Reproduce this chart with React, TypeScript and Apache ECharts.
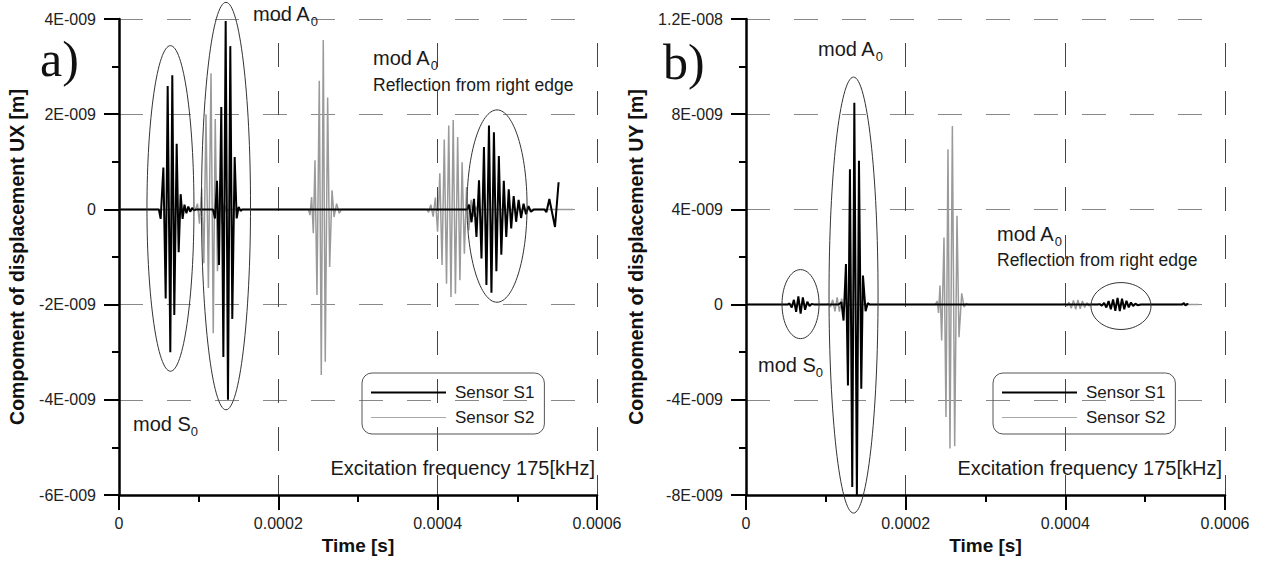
import React, { useEffect, useRef } from 'react';
import * as echarts from 'echarts';

// Time in microseconds, displacement in units of 1E-009 m
const uxS1: [number, number][] = [
  [0, 0], [50, 0], [52.3, -0.2], [55.7, 0.88], [58.6, -1.87], [61.1, 2.59], [64.4, -3.0], [66.9, 2.82],
  [69.4, -2.22], [72.4, 1.38], [74.9, -0.9], [77.4, 0.32], [79.8, -0.2], [82.2, 0.1], [84.6, -0.08],
  [87, 0.06], [89.4, -0.05], [91.8, 0.03], [94.2, -0.02], [97, 0],
  [118, 0], [120.5, -0.19], [123, 0.6], [125.5, -1.17], [128.4, 2.15], [131, -3.1], [133.9, 3.96],
  [136.8, -4.0], [139.7, 3.43], [142.2, -2.3], [145.2, 1.1], [147.7, -0.19], [150.2, 0.05],
  [152.6, -0.03], [155, 0],
  [437, 0], [439.4, 0.1], [442.5, -0.27], [445.6, 0.22], [448.7, -0.58], [451.9, 0.61], [455, -1.03],
  [458.1, 1.31], [461.2, -1.59], [464.4, 1.76], [467.5, -1.75], [470.6, 1.62], [473.7, -1.3],
  [476.8, 1.12], [479.9, -0.95], [483, 0.6], [486.1, -0.58], [489.2, 0.42], [492.3, -0.4],
  [495.4, 0.28], [498.5, -0.26], [501.6, 0.2], [504.7, -0.18], [507.8, 0.12], [510.9, -0.1],
  [514, 0.07], [517, -0.05], [521, 0],
  [534, 0], [536.5, -0.06], [540.2, 0.22], [547.3, -0.37], [551.8, 0.57],
];

const uxS2: [number, number][] = [
  [0, 0], [96, 0], [98.5, 0.12], [101, -0.3], [103.8, 0.44], [106.5, -1.13], [109.2, 2.0],
  [112.2, -1.65], [115.5, 2.86], [118.3, -2.6], [120.8, 1.9], [123.6, -1.3], [126.5, 0.6],
  [129.3, -0.3], [132, 0.12], [134.8, -0.05], [137.5, 0],
  [237.7, 0], [239.7, -0.12], [241.8, 0.26], [243.9, -0.5], [246, 1.03], [248.5, -1.8],
  [251.4, 2.7], [253.9, -3.48], [256.4, 3.56], [258.9, -3.2], [261.9, 2.35], [264.4, -1.21],
  [267.4, 0.4], [269.9, -0.16], [273.2, 0.12], [276.5, -0.08], [279.5, 0],
  [386, 0], [388.6, -0.06], [391.4, 0.1], [394.3, -0.15], [397.1, 0.25], [399.9, -0.47],
  [402.7, 0.76], [405.5, -1.17], [408.3, 1.47], [411.1, -1.56], [413.9, 1.76], [416.7, -1.84],
  [419.5, 1.88], [422.3, -1.77], [425.1, 1.52], [427.9, -1.49], [430.7, 0.99], [433.5, -0.93],
  [436.3, 0.47], [439.1, -0.44], [441.9, 0.2], [444.7, -0.15], [447.5, 0.06], [450.3, -0.03],
  [453, 0], [570, 0],
];

const uyS1: [number, number][] = [
  [0, 0], [52, 0], [54.5, 0.05], [57.3, -0.12], [60, 0.2], [62.8, -0.3], [65.6, 0.35],
  [68.4, -0.38], [71.2, 0.3], [74, -0.22], [76.8, 0.12], [79.6, -0.06], [82.4, 0.03], [86, 0],
  [116, 0], [119.5, 0.1], [122.2, -0.67], [125.2, 1.7], [127.7, -3.4], [130.2, 5.69],
  [133.1, -7.66], [135.7, 8.48], [138.9, -8.0], [141.5, 6.04], [144.4, -3.54], [146.5, 1.22],
  [149.8, -0.28], [152.5, 0.06], [155, 0],
  [440, 0], [443, 0.02], [445.8, -0.04], [448.6, 0.07], [451.4, -0.12], [454.2, 0.15],
  [457, -0.2], [459.8, 0.22], [462.6, -0.26], [465.4, 0.28], [468.2, -0.27], [471, 0.25],
  [473.8, -0.2], [476.6, 0.16], [479.4, -0.12], [482.2, 0.09], [485, -0.06], [487.8, 0.04],
  [490.6, -0.03], [495, 0],
  [546, 0], [548.5, 0.06], [550.5, -0.04], [552.5, 0.03], [554, 0],
];

const uyS2: [number, number][] = [
  [0, 0], [100, 0], [103, 0.04], [105.8, -0.1], [108.6, 0.2], [111.4, -0.28], [114.2, 0.3],
  [117, -0.3], [119.8, 0.25], [122.6, -0.18], [125.4, 0.1], [128.2, -0.05], [131, 0],
  [237, 0], [239.5, 0.15], [241.2, -0.35], [243, 0.8], [245.1, -1.51], [248, 2.82],
  [250.5, -4.72], [253, 6.53], [255.5, -6.05], [258.5, 7.5], [261.4, -5.95], [264.3, 3.73],
  [266.8, -1.37], [270.2, 0.47], [273.1, -0.1], [276, 0.05], [278, 0],
  [396, 0], [399, 0.03], [401.8, -0.06], [404.6, 0.1], [407.4, -0.15], [410.2, 0.18],
  [413, -0.2], [415.8, 0.2], [418.6, -0.18], [421.4, 0.15], [424.2, -0.12], [427, 0.08],
  [429.8, -0.05], [432.6, 0.02], [436, 0], [567, 0],
];

// Ellipse annotations (centre time, centre value, radius in time, radius in value)
const uxEllipses = [
  [64.6, 0.02, 29.5, 3.42],
  [134.3, 0.07, 30.8, 4.28],
  [474.5, 0.07, 37.7, 2.02],
];
const uyEllipses = [
  [68.3, 0.02, 23.2, 1.45],
  [134.7, 0.4, 30.7, 9.16],
  [469.7, -0.06, 37.6, 0.985],
];

const xRange = [0, 600, 200];
const uxRange = [-6, 4, 2];
const uyRange = [-8, 12, 4];

const seriesNames = ['Sensor S1', 'Sensor S2'];
const yNames = ['Compoment of displacement UX [m]', 'Compoment of displacement UY [m]'];
const xName = 'Time [s]';
const excitation = 'Excitation frequency 175[kHz]';
const reflection = 'Reflection from right edge';

const FONT = "'Liberation Sans', Arial, Helvetica, sans-serif";
const SERIF = "'Liberation Serif', 'Times New Roman', serif";
const TXT = '#1a1a1a';
const S1_COLOR = '#000';
const S2_COLOR = '#9a9a9a';

function sciLabel(v: number): string {
  const val = v * 1e-9;
  if (Math.abs(v) < 1e-9) return '0';
  const e = Math.floor(Math.log10(Math.abs(val)) + 1e-9);
  const m = +(val / Math.pow(10, e)).toFixed(3);
  return `${m}E${e < 0 ? '-' : '+'}${String(Math.abs(e)).padStart(3, '0')}`;
}

function timeLabel(v: number): string {
  if (v === 0) return '0';
  return (v * 1e-6).toFixed(4);
}

function makeXAxis(gridIndex: number) {
  return {
    type: 'value',
    gridIndex,
    min: xRange[0],
    max: xRange[1],
    interval: xRange[2],
    name: xName,
    nameLocation: 'middle',
    nameGap: 41,
    nameTextStyle: { fontFamily: FONT, fontSize: 19, fontWeight: 'bold', color: '#111' },
    axisLine: { show: true, onZero: false, lineStyle: { color: '#000', width: 2.5 } },
    axisTick: { show: true, length: 15, lineStyle: { color: '#000', width: 2 } },
    minorTick: { show: true, splitNumber: 2, length: 7, lineStyle: { color: '#000', width: 2 } },
    axisLabel: { fontFamily: FONT, fontSize: 16, color: '#222', margin: 20, formatter: timeLabel },
    splitLine: { show: true, lineStyle: { color: '#444', width: 1, type: [24, 24], dashOffset: 24 } },
    minorSplitLine: { show: false },
  };
}

function makeYAxis(gridIndex: number, range: number[], name: string, nameGap: number) {
  return {
    type: 'value',
    gridIndex,
    min: range[0],
    max: range[1],
    interval: range[2],
    name,
    nameLocation: 'middle',
    nameGap,
    nameTextStyle: { fontFamily: FONT, fontSize: 19.5, fontWeight: 'bold', color: '#111' },
    axisLine: { show: true, onZero: false, lineStyle: { color: '#000', width: 2.5 } },
    axisTick: { show: true, length: 15, lineStyle: { color: '#000', width: 2 } },
    minorTick: { show: true, splitNumber: 2, length: 7, lineStyle: { color: '#000', width: 2 } },
    axisLabel: { fontFamily: FONT, fontSize: 16, color: '#222', margin: 23, formatter: sciLabel },
    splitLine: { show: true, lineStyle: { color: '#888', width: 1, type: [24, 24] } },
  };
}

function lineSeries(name: string, data: [number, number][], idx: number) {
  const isS1 = name === seriesNames[0];
  return {
    type: 'line',
    name,
    xAxisIndex: idx,
    yAxisIndex: idx,
    data,
    symbol: 'none',
    showSymbol: false,
    silent: true,
    z: isS1 ? 4 : 3,
    lineStyle: { color: isS1 ? S1_COLOR : S2_COLOR, width: isS1 ? 2 : 1.5 },
    itemStyle: { color: isS1 ? S1_COLOR : S2_COLOR },
  };
}

function legendAt(left: number) {
  return {
    data: [
      { name: seriesNames[0], lineStyle: { color: S1_COLOR, width: 2 } },
      { name: seriesNames[1], lineStyle: { color: '#a8a8a8', width: 1 } },
    ],
    orient: 'vertical',
    left,
    top: 373,
    itemWidth: 75,
    itemHeight: 14,
    itemGap: 8,
    padding: [11, 10, 8, 8],
    borderColor: '#555',
    borderWidth: 1,
    borderRadius: 10,
    selectedMode: false,
    itemStyle: { opacity: 0 },
    formatter: (name: string) => `{t|${name}}`,
    textStyle: {
      fontFamily: FONT,
      fontSize: 17,
      color: TXT,
      rich: { t: { fontFamily: FONT, fontSize: 17, color: TXT, padding: [0, 0, 0, 4] } },
    },
  };
}

function modText(x: number, y: number, letter: string) {
  return {
    type: 'text',
    x,
    y,
    z: 20,
    style: {
      text: `{m|mod ${letter}}{s|0}`,
      verticalAlign: 'middle',
      rich: {
        m: { fontFamily: FONT, fontSize: 20, fill: TXT, lineHeight: 24, verticalAlign: 'top' },
        s: { fontFamily: FONT, fontSize: 13, fill: TXT, lineHeight: 13, verticalAlign: 'bottom' },
      },
    },
  };
}

function plainText(x: number, y: number, text: string, fontSize: number, extra: any = {}) {
  return {
    type: 'text',
    x,
    y,
    z: 20,
    style: { text, fontFamily: FONT, fontSize, fill: TXT, verticalAlign: 'middle', ...extra },
  };
}

export default function App() {
  const ref = useRef<HTMLDivElement>(null);

  useEffect(() => {
    if (!ref.current) return;
    const chart = echarts.init(ref.current, undefined, { renderer: 'svg' });
    chart.setOption({
      animation: false,
      backgroundColor: '#fff',
      grid: [
        { left: 119, top: 19, width: 478, height: 476 },
        { left: 746, top: 19, width: 479, height: 476 },
      ],
      xAxis: [makeXAxis(0), makeXAxis(1)],
      yAxis: [makeYAxis(0, uxRange, yNames[0], 92), makeYAxis(1, uyRange, yNames[1], 100)],
      legend: [legendAt(362), legendAt(993)],
      series: [
        lineSeries(seriesNames[1], uxS2, 0),
        lineSeries(seriesNames[0], uxS1, 0),
        lineSeries(seriesNames[1], uyS2, 1),
        lineSeries(seriesNames[0], uyS1, 1),
      ],
    });

    const ellipses: any[] = [];
    const addEllipses = (list: number[][], gridIndex: number) => {
      list.forEach(([t, v, rt, rv]) => {
        const c = chart.convertToPixel({ gridIndex }, [t, v]) as number[];
        const px = chart.convertToPixel({ gridIndex }, [t + rt, v + rv]) as number[];
        ellipses.push({
          type: 'ellipse',
          z: 15,
          shape: { cx: c[0], cy: c[1], rx: Math.abs(px[0] - c[0]), ry: Math.abs(px[1] - c[1]) },
          style: { fill: 'none', stroke: '#333', lineWidth: 1 },
          silent: true,
        });
      });
    };
    addEllipses(uxEllipses, 0);
    addEllipses(uyEllipses, 1);

    const texts = [
      plainText(40, 59, 'a)', 50, { fontFamily: SERIF, fill: '#111' }),
      plainText(663, 62, 'b)', 50, { fontFamily: SERIF, fill: '#111' }),
      modText(253, 16, 'A'),
      modText(373, 60, 'A'),
      plainText(373, 85, reflection, 17.5),
      modText(133, 426, 'S'),
      plainText(595, 468, excitation, 20, { align: 'right' }),
      modText(818, 51, 'A'),
      modText(997, 236, 'A'),
      plainText(997, 260, reflection, 17.5),
      modText(758, 367, 'S'),
      plainText(1222, 468, excitation, 20, { align: 'right' }),
    ];

    chart.setOption({ graphic: [...ellipses, ...texts] });

    return () => chart.dispose();
  }, []);

  return (
    <div
      ref={ref}
      style={{ position: 'fixed', left: 0, top: 0, width: 1263, height: 566, background: '#fff' }}
    />
  );
}
